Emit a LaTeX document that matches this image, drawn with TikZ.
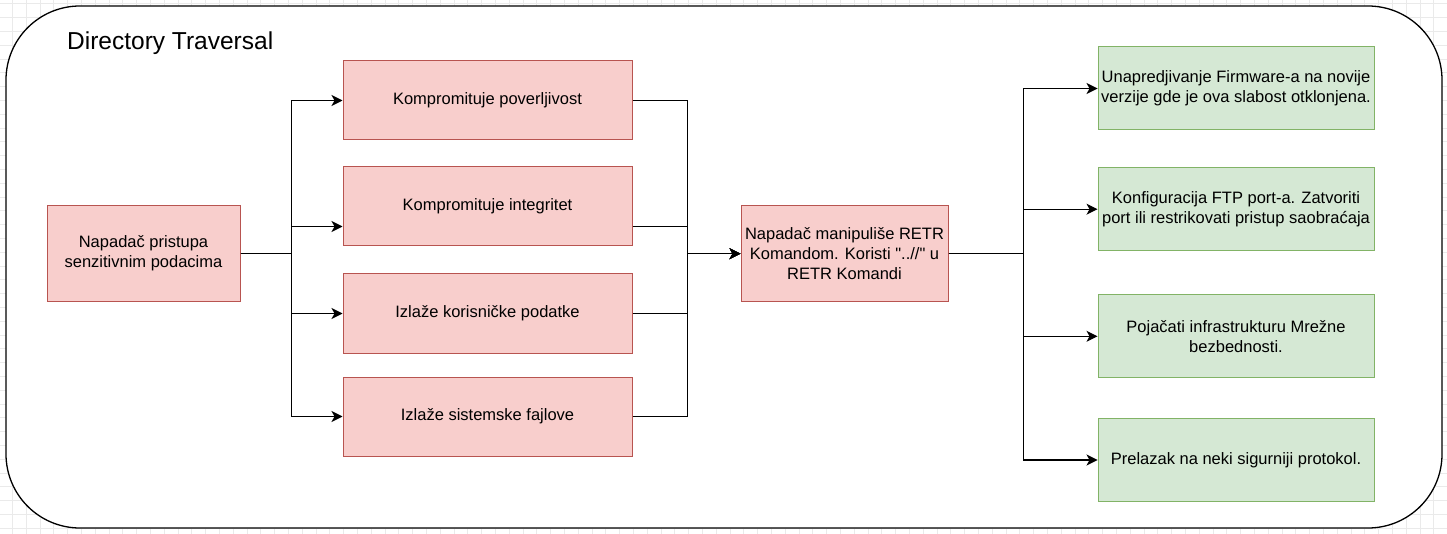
\documentclass[tikz,border=0pt]{standalone}
\usepackage{fontspec}
\setmainfont{Liberation Sans}[Ligatures=TeXOff]
\usetikzlibrary{arrows.meta,calc}
\definecolor{attack-red}{HTML}{F8CECC}
\definecolor{attack-line}{HTML}{B85450}
\definecolor{fix-green}{HTML}{D5E8D4}
\definecolor{fix-line}{HTML}{82B366}
\definecolor{grid-gray}{HTML}{EAEAEA}
\tikzstyle{boxtext}=[align=center, inner sep=0pt, font=\fontsize{16.5}{20}\selectfont]
\tikzstyle{redbox}=[boxtext, draw=attack-line, fill=attack-red, line width=1pt]
\tikzstyle{greenbox}=[boxtext, draw=fix-line, fill=fix-green, line width=1pt, minimum width=276pt, minimum height=83pt]
\tikzstyle{link}=[line width=1.1pt, -{Stealth[length=11pt,width=11pt,inset=3pt]}]
\tikzstyle{gridline}=[draw=grid-gray, line width=0.6pt]

\begin{document}
\begin{tikzpicture}[x=1pt,y=-1pt]
	\useasboundingbox (0,0) rectangle (1447,534);
	\foreach \gx in {0,...,104} \draw[gridline] ({12.3+13.8*\gx},0) -- ++(0,534);
	\foreach \gy in {0,...,38} \draw[gridline] (0,{3.7+13.8*\gy}) -- ++(1447,0);
	\draw[rounded corners=74pt, line width=1.3pt, fill=white] (6,6) rectangle (1442,528);
	\node[anchor=base west, inner sep=0pt, font=\fontsize{24.5}{29}\selectfont] (title) at (67,49.3) {Directory Traversal};

	\node[redbox, minimum width=193pt, minimum height=96pt] (attack) at (143.5,253.5) {Napadač pristupa\\senzitivnim podacima};
	\node[redbox, minimum width=289pt, minimum height=79pt] (imp1) at (487.5,100.5) {Kompromituje poverljivost};
	\node[redbox, minimum width=289pt, minimum height=79pt] (imp2) at (487.5,206.5) {Kompromituje integritet};
	\node[redbox, minimum width=289pt, minimum height=79pt] (imp3) at (487.5,313.5) {Izlaže korisničke podatke};
	\node[redbox, minimum width=289pt, minimum height=79pt] (imp4) at (487.5,416.5) {Izlaže sistemske fajlove};
	\node[redbox, minimum width=207pt, minimum height=96pt] (exploit) at (844.5,253.7) {Napadač manipuliše RETR\\Komandom. Koristi "..//" u\\RETR Komandi};

	\node[greenbox] (fix1) at (1236,88.5) {Unapredjivanje Firmware-a na novije\\verzije gde je ova slabost otklonjena.};
	\node[greenbox] (fix2) at (1236,209.2) {Konfiguracija FTP port-a. Zatvoriti\\port ili restrikovati pristup saobraćaja};
	\node[greenbox] (fix3) at (1236,336.3) {Pojačati infrastrukturu Mrežne\\bezbednosti.};
	\node[greenbox] (fix4) at (1236,460) {Prelazak na neki sigurniji protokol.};

	\draw[link] (attack.east) -- ++(51,0) |- (imp1.west);
	\draw[link] (attack.east) -- ++(51,0) |- ([yshift=-20pt]imp2.west);
	\draw[link] (attack.east) -- ++(51,0) |- (imp3.west);
	\draw[link] (attack.east) -- ++(51,0) |- (imp4.west);

	\draw[link] (imp1.east) -- ++(55,0) |- (exploit.west);
	\draw[link] ([yshift=-20pt]imp2.east) -- ++(55,0) |- (exploit.west);
	\draw[link] (imp3.east) -- ++(55,0) |- (exploit.west);
	\draw[link] (imp4.east) -- ++(55,0) |- (exploit.west);

	\draw[link] (exploit.east) -- ++(75,0) |- (fix1.west);
	\draw[link] (exploit.east) -- ++(75,0) |- (fix2.west);
	\draw[link] (exploit.east) -- ++(75,0) |- (fix3.west);
	\draw[link] (exploit.east) -- ++(75,0) |- (fix4.west);
\end{tikzpicture}
\end{document}
